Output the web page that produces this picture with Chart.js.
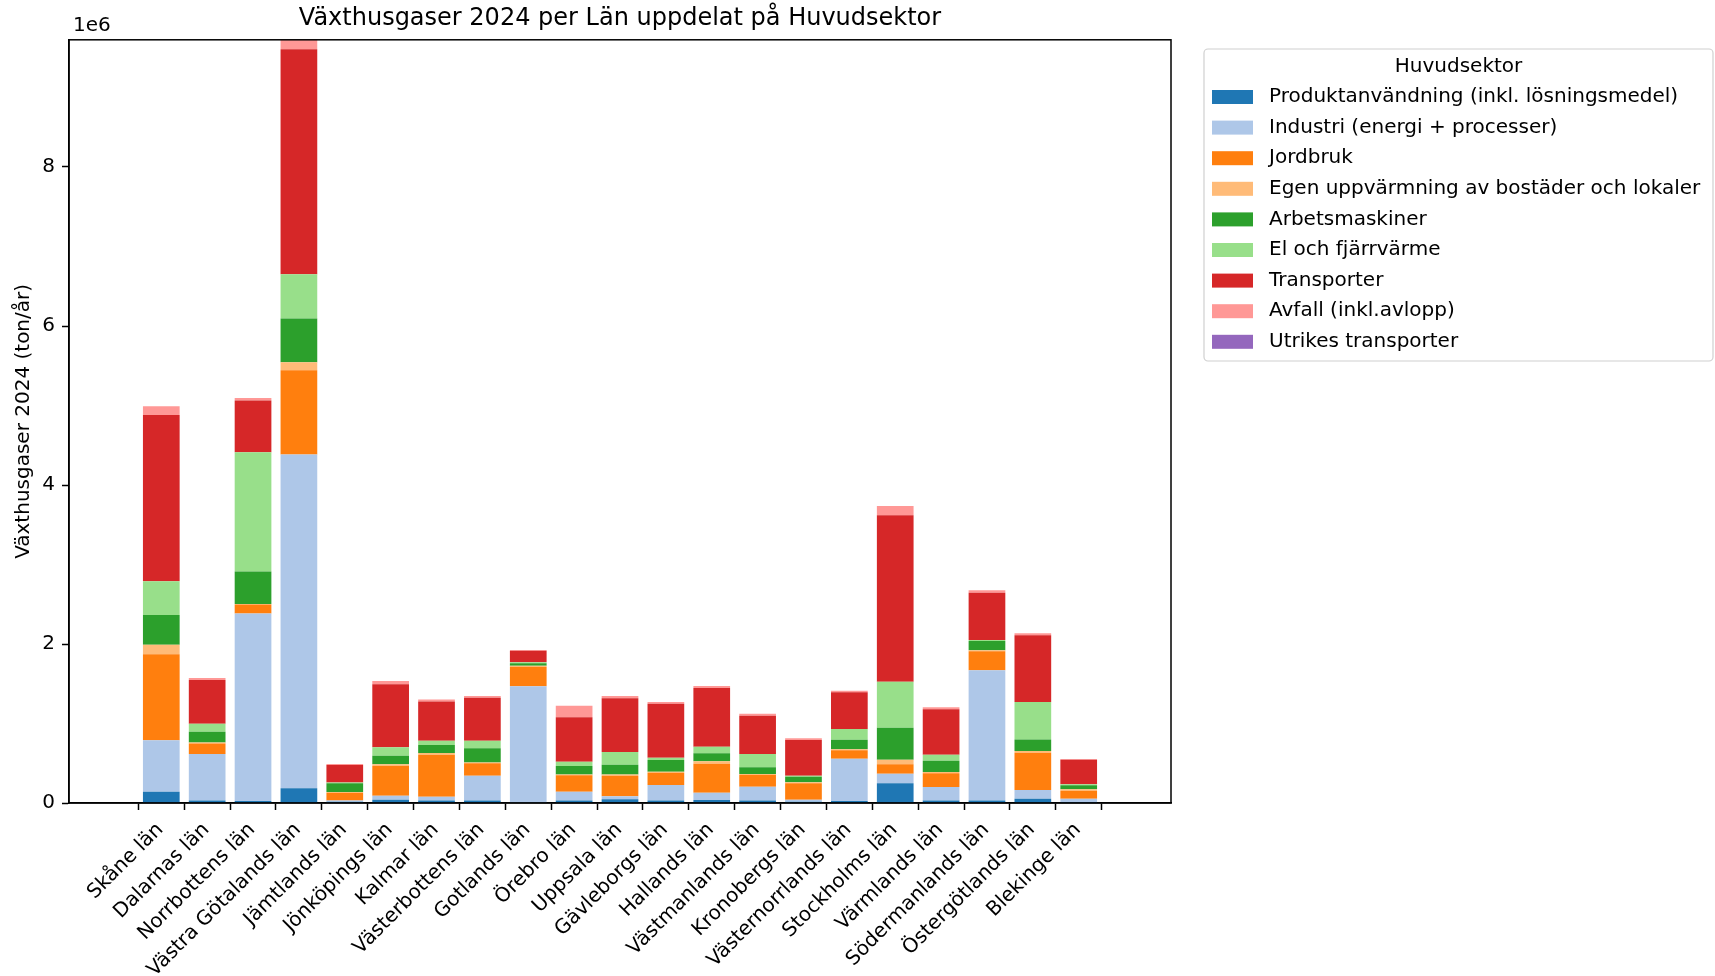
<html lang="sv">
<head>
    <meta charset="utf-8">
    <title>Växthusgaser 2024 per Län</title>
    <script src="https://cdn.jsdelivr.net/npm/chart.js@4.4.1/dist/chart.umd.min.js"></script>
    <style>
        body { margin: 0; background: #fff; }
    </style>
</head>
<body>
<canvas id="bar-chart" width="1715" height="976"></canvas>
<script>
    // Län in plotted order
    const categories = ['Skåne län', 'Dalarnas län', 'Norrbottens län', 'Västra Götalands län', 'Jämtlands län',
        'Jönköpings län', 'Kalmar län', 'Västerbottens län', 'Gotlands län', 'Örebro län', 'Uppsala län',
        'Gävleborgs län', 'Hallands län', 'Västmanlands län', 'Kronobergs län', 'Västernorrlands län',
        'Stockholms län', 'Värmlands län', 'Södermanlands län', 'Östergötlands län', 'Blekinge län'];

    // ton/år per huvudsektor
    const produktanvandning = [140000, 30000, 25000, 184000, 15000, 40000, 30000, 30000, 10000, 30000, 46000,
        30000, 38000, 30000, 17000, 25000, 247000, 30000, 30000, 55000, 13000];
    const industri = [650000, 586000, 2360000, 4200000, 15000, 52000, 50000, 314000, 1460000, 113000, 38000,
        196000, 92000, 175000, 25000, 533000, 122000, 170000, 1639000, 109000, 42000];
    const jordbruk = [1080000, 134000, 113000, 1060000, 100000, 373000, 524000, 156000, 245000, 205000, 260000,
        154000, 365000, 147000, 205000, 104000, 117000, 173000, 239000, 469000, 100000];
    const egenUppvarmning = [120000, 10000, 5000, 100000, 8000, 21000, 25000, 10000, 12000, 12000, 16000,
        14000, 29000, 13000, 13000, 13000, 59000, 17000, 12000, 21000, 17000];
    const arbetsmaskiner = [375000, 137000, 410000, 550000, 110000, 109000, 100000, 180000, 30000, 105000, 122000,
        146000, 101000, 84000, 70000, 122000, 403000, 142000, 118000, 146000, 50000];
    const elFjarrvarme = [425000, 100000, 1500000, 557000, 10000, 105000, 54000, 94000, 12000, 55000, 159000,
        30000, 84000, 167000, 14000, 134000, 578000, 76000, 12000, 470000, 13000];
    const transporter = [2090000, 550000, 650000, 2830000, 220000, 793000, 495000, 541000, 147000, 558000, 676000,
        680000, 738000, 483000, 448000, 461000, 2092000, 570000, 596000, 839000, 310000];
    const avfall = [110000, 25000, 30000, 140000, 12000, 42000, 25000, 21000, 9000, 146000, 29000,
        20000, 25000, 25000, 21000, 21000, 118000, 25000, 29000, 25000, 8000];
    const utrikesTransporter = [0, 0, 0, 0, 0, 0, 0, 0, 0, 0, 0, 0, 0, 0, 0, 0, 0, 0, 0, 0, 0];

    const sectorNames = ['Produktanvändning (inkl. lösningsmedel)', 'Industri (energi + processer)', 'Jordbruk',
        'Egen uppvärmning av bostäder och lokaler', 'Arbetsmaskiner', 'El och fjärrvärme', 'Transporter',
        'Avfall (inkl.avlopp)', 'Utrikes transporter'];
    const sectorValues = [produktanvandning, industri, jordbruk, egenUppvarmning, arbetsmaskiner, elFjarrvarme,
        transporter, avfall, utrikesTransporter];
    const sectorColors = ['#1f77b4', '#aec7e8', '#ff7f0e', '#ffbb78', '#2ca02c', '#98df8a', '#d62728', '#ff9896', '#9467bd'];

    const yTicks = [0, 2000000, 4000000, 6000000, 8000000];

    const FONT = '"DejaVu Sans", sans-serif';

    // axes frame, "1e6" offset text and matplotlib-like legend
    const extras = {
        id: 'extras',
        afterDraw(chart) {
            const ctx = chart.ctx;
            const a = chart.chartArea;
            ctx.save();
            ctx.strokeStyle = '#000';
            ctx.lineWidth = 1.5;
            ctx.strokeRect(a.left, a.top, a.right - a.left, a.bottom - a.top);

            ctx.fillStyle = '#000';
            ctx.font = '20px ' + FONT;
            ctx.textAlign = 'left';
            ctx.textBaseline = 'middle';
            ctx.fillText('1e6', a.left + 4, a.top - 14);

            // legend
            const lx = a.right + 33, ly = 49, lw = 509, lh = 312;
            ctx.beginPath();
            ctx.roundRect(lx, ly, lw, lh, 4);
            ctx.fillStyle = 'rgba(255,255,255,0.8)';
            ctx.fill();
            ctx.strokeStyle = '#d0d0d0';
            ctx.lineWidth = 1.2;
            ctx.stroke();

            ctx.fillStyle = '#000';
            ctx.textAlign = 'center';
            ctx.fillText('Huvudsektor', lx + lw / 2, 67);
            ctx.textAlign = 'left';
            chart.data.datasets.forEach((ds, i) => {
                const cy = 97 + i * 30.6;
                ctx.fillStyle = ds.backgroundColor;
                ctx.fillRect(lx + 8, cy - 7, 41, 14);
                ctx.fillStyle = '#000';
                ctx.fillText(ds.label, lx + 65, cy);
            });
            ctx.restore();
        }
    };

    const chart = new Chart(document.getElementById('bar-chart'), {
        type: 'bar',
        data: {
            datasets: sectorNames.map((name, s) => ({
                label: name,
                data: sectorValues[s].map((v, i) => ({x: i, y: v})),
                backgroundColor: sectorColors[s],
                borderWidth: 0,
                categoryPercentage: 1,
                barPercentage: 0.8
            }))
        },
        options: {
            responsive: false,
            animation: false,
            layout: {padding: {left: 0, right: 544, top: 0, bottom: 0}},
            plugins: {
                legend: {display: false},
                tooltip: {enabled: false},
                title: {
                    display: true,
                    fullSize: false,
                    text: 'Växthusgaser 2024 per Län uppdelat på Huvudsektor',
                    color: '#000',
                    font: {family: FONT, size: 24, weight: 'normal'},
                    padding: {top: 4, bottom: 7}
                }
            },
            scales: {
                x: {
                    type: 'linear',
                    stacked: true,
                    min: -1.44,
                    max: 21.44,
                    afterBuildTicks: scale => {
                        scale.ticks = categories.map((c, i) => ({value: i}));
                    },
                    afterFit: scale => { scale.height = 173; },
                    ticks: {
                        autoSkip: false,
                        minRotation: 45,
                        maxRotation: 45,
                        padding: 8,
                        labelOffset: -1,
                        color: '#000',
                        font: {family: FONT, size: 20},
                        callback: v => categories[v]
                    },
                    grid: {drawOnChartArea: false, drawTicks: true, tickLength: 7, color: '#000', tickWidth: 1.5},
                    border: {display: true, color: '#000', width: 1.5}
                },
                y: {
                    stacked: true,
                    min: 0,
                    max: 9600000,
                    afterBuildTicks: scale => {
                        scale.ticks = yTicks.map(v => ({value: v}));
                    },
                    afterFit: scale => { scale.width = 69; },
                    title: {
                        display: true,
                        text: 'Växthusgaser 2024 (ton/år)',
                        color: '#000',
                        font: {family: FONT, size: 20},
                        padding: {top: 12, bottom: 4}
                    },
                    ticks: {
                        padding: 7,
                        color: '#000',
                        font: {family: FONT, size: 20},
                        callback: v => String(v / 1000000)
                    },
                    grid: {drawOnChartArea: false, drawTicks: true, tickLength: 7, color: '#000', tickWidth: 1.5},
                    border: {display: true, color: '#000', width: 1.5}
                }
            }
        },
        plugins: [extras]
    });
</script>
</body>
</html>
